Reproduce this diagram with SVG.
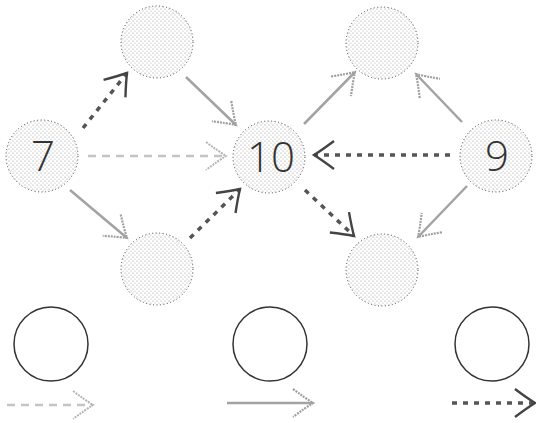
<svg xmlns="http://www.w3.org/2000/svg" width="536" height="423" viewBox="0 0 536 423">
<defs>
<pattern id="dots" width="4" height="4" patternUnits="userSpaceOnUse">
<circle cx="1" cy="1" r="0.55" fill="#8a8a8a"/>
<circle cx="3" cy="3" r="0.55" fill="#a8a8a8"/>
</pattern>
<marker id="ahL" markerUnits="userSpaceOnUse" markerWidth="34" markerHeight="34" viewBox="-24 -17 28 34" refX="0" refY="0" orient="auto">
<path d="M-20,-14 Q-8,-5 0,0 Q-8,5 -20,14" fill="none" stroke="#b5b5b5" stroke-width="2" stroke-dasharray="2 1"/>
</marker>
<marker id="ahG" markerUnits="userSpaceOnUse" markerWidth="34" markerHeight="34" viewBox="-24 -17 28 34" refX="0" refY="0" orient="auto">
<path d="M-20,-14 Q-8,-5 0,0 Q-8,5 -20,14" fill="none" stroke="#a0a0a0" stroke-width="2.2" stroke-dasharray="2 1"/>
</marker>
<marker id="ahD" markerUnits="userSpaceOnUse" markerWidth="34" markerHeight="34" viewBox="-24 -17 28 34" refX="0" refY="0" orient="auto">
<path d="M-20,-14 Q-8,-5 0,0 Q-8,5 -20,14" fill="none" stroke="#444" stroke-width="2.4"/>
</marker>
</defs>
<style>
.node{fill:url(#dots);stroke:#444;stroke-width:1;stroke-dasharray:1 2.5}
.lbl{font-family:"Open Sans","DejaVu Sans",sans-serif;font-weight:300;font-size:42px;fill:#333;text-anchor:middle}
.light{fill:none;stroke:#c4c4c4;stroke-width:2.5;stroke-dasharray:8 6;marker-end:url(#ahL)}
.gray{fill:none;stroke:#a3a3a3;stroke-width:2.5;marker-end:url(#ahG)}
.dark{fill:none;stroke:#555;stroke-width:3.5;stroke-dasharray:5 6;marker-end:url(#ahD)}
.open{fill:#fff;stroke:#333;stroke-width:1.5}
</style>
<g id="connectors">
<line class="dark" x1="83" y1="128" x2="127" y2="73"/>
<line class="light" x1="88" y1="156" x2="226" y2="156"/>
<line class="gray" x1="70" y1="190" x2="127" y2="238"/>
<line class="gray" x1="186" y1="77" x2="236" y2="125"/>
<line class="dark" x1="190" y1="238" x2="240" y2="189"/>
<line class="gray" x1="304" y1="124" x2="355" y2="72"/>
<line class="dark" x1="305" y1="190" x2="354" y2="236"/>
<line class="dark" x1="450" y1="155" x2="314" y2="155"/>
<line class="gray" x1="462" y1="122" x2="416" y2="74"/>
<line class="gray" x1="467" y1="186" x2="418" y2="237"/>
<line class="light" x1="7" y1="405" x2="93" y2="405"/>
<line class="gray" x1="227" y1="403" x2="313" y2="403"/>
<line class="dark" x1="452" y1="403" x2="535" y2="403"/>
</g>
<g id="n7"><circle class="node" cx="42" cy="156" r="36"/><text class="lbl" x="43" y="171">7</text></g>
<g id="nTL"><circle class="node" cx="157" cy="42" r="36"/></g>
<g id="nBL"><circle class="node" cx="157" cy="269" r="36"/></g>
<g id="n10"><circle class="node" cx="269" cy="157" r="36"/><text class="lbl" x="271" y="172">10</text></g>
<g id="nTR"><circle class="node" cx="382" cy="43" r="36"/></g>
<g id="nBR"><circle class="node" cx="382" cy="270" r="36"/></g>
<g id="n9"><circle class="node" cx="496" cy="156" r="36"/><text class="lbl" x="497" y="171">9</text></g>
<g id="legend1"><circle class="open" cx="51" cy="344" r="37"/></g>
<g id="legend2"><circle class="open" cx="270" cy="344" r="37"/></g>
<g id="legend3"><circle class="open" cx="492" cy="344" r="37"/></g>
</svg>
